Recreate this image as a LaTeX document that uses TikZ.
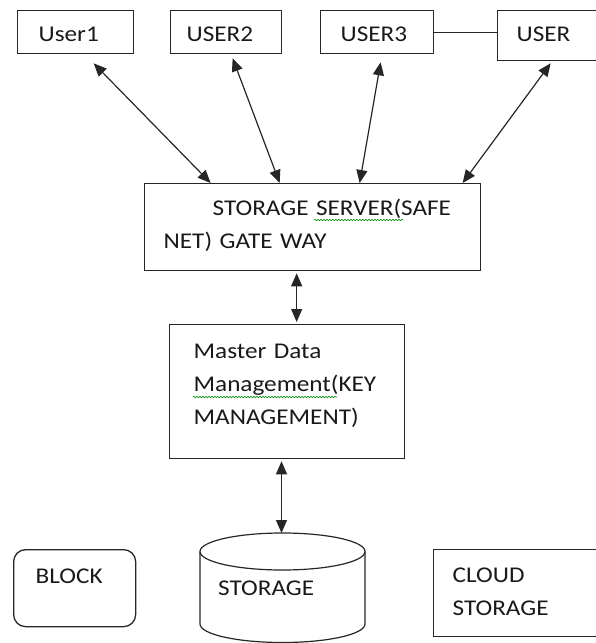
\documentclass[tikz,border=0pt]{standalone}
\usepackage{fontspec}
\setmainfont{Carlito}[FakeStretch=1.12, WordSpace=0.6]
\usetikzlibrary{arrows.meta,decorations.pathmorphing}

\tikzset{
    box/.style={draw=black!85, line width=1.3pt, rectangle, inner ysep=0pt, align=left, anchor=north west, text=black!90},
    roundbox/.style={box, rounded corners=12pt},
    link/.style={draw=black!85, line width=1.2pt},
    dbl/.style={link, {Triangle[length=13pt,width=11pt]}-{Triangle[length=13pt,width=11pt]}},
    spell/.style={draw=green!55!black, line width=0.6pt, decorate, decoration={snake, amplitude=0.8pt, segment length=3pt}}
}

\begin{document}
\begin{tikzpicture}[x=1pt, y=1pt, font=\fontsize{22.5}{33}\selectfont]
            \useasboundingbox (0,0) rectangle (595,-643);

            \node[box, inner xsep=21pt, text width=74pt, text height=31pt, text depth=12pt] (user1) at (17,-10) {User1};
            \node[box, inner xsep=16pt, text width=79pt, text height=31pt, text depth=12pt] (user2) at (170,-10) {USER2};
            \node[box, inner xsep=20pt, text width=73pt, text height=31pt, text depth=12pt] (user3) at (320,-10) {USER3};
            \node[box, inner xsep=19pt, text width=65pt, text height=31pt, text depth=19pt] (user) at (497,-10) {USER};
            \draw[link] (user3.east) -- (user3.east -| user.west);

            \node[box, inner xsep=19pt, text width=298pt, text height=32pt, text depth=55pt] (server) at (144,-183)
                {\hspace*{49pt}STORAGE SERVER(SAFE\\NET) GATE WAY};
            \node[box, inner xsep=24pt, text width=187pt, text height=34pt, text depth=100pt] (master) at (169,-324)
                {Master Data\\Management(KEY\\MANAGEMENT)};
            \draw[spell] ([shift={(170,-37)}]server.north west) -- ++(89,0);
            \draw[spell] ([shift={(24,-73)}]master.north west) -- ++(144,0);

            \node[roundbox, inner xsep=22pt, text width=78pt, text height=34pt, text depth=43pt] (block) at (13,-549) {BLOCK};
            \node[box, inner xsep=19pt, text width=129pt, text height=33pt, text depth=54pt] (cloud) at (433,-549) {CLOUD\\STORAGE};

            \coordinate (db) at (282.5,-551.5);
            \coordinate (dbtop) at ([shift={(-1,18.5)}]db);
            \draw[link] (db) ellipse [x radius=82.5, y radius=18.5];
            \draw[link] ([xshift=-82.5pt]db) -- ++(0,-72.5) arc[start angle=180, end angle=360, x radius=82.5, y radius=18.5] -- ++(0,72.5);
            \node[anchor=base west, inner sep=0pt, text=black!90] (storage) at (218,-595) {STORAGE};

            \draw[dbl] ([shift={(18,-9)}]user1.south) -- ([xshift=-102pt]server.north);
            \draw[dbl] ([shift={(6.5,-4)}]user2.south) -- ([xshift=-33pt]server.north);
            \draw[dbl] ([shift={(3.5,-8)}]user3.south) -- ([xshift=47pt]server.north);
            \draw[dbl] ([shift={(1.5,-2)}]user.south) -- ([xshift=150pt]server.north);
            \draw[dbl, shorten <=2pt, shorten >=2pt] ([xshift=-16pt]server.south) -- ([xshift=9.5pt]master.north);
            \draw[dbl, shorten <=2pt] (master.south -| dbtop) -- (dbtop);
        \end{tikzpicture}
\end{document}
